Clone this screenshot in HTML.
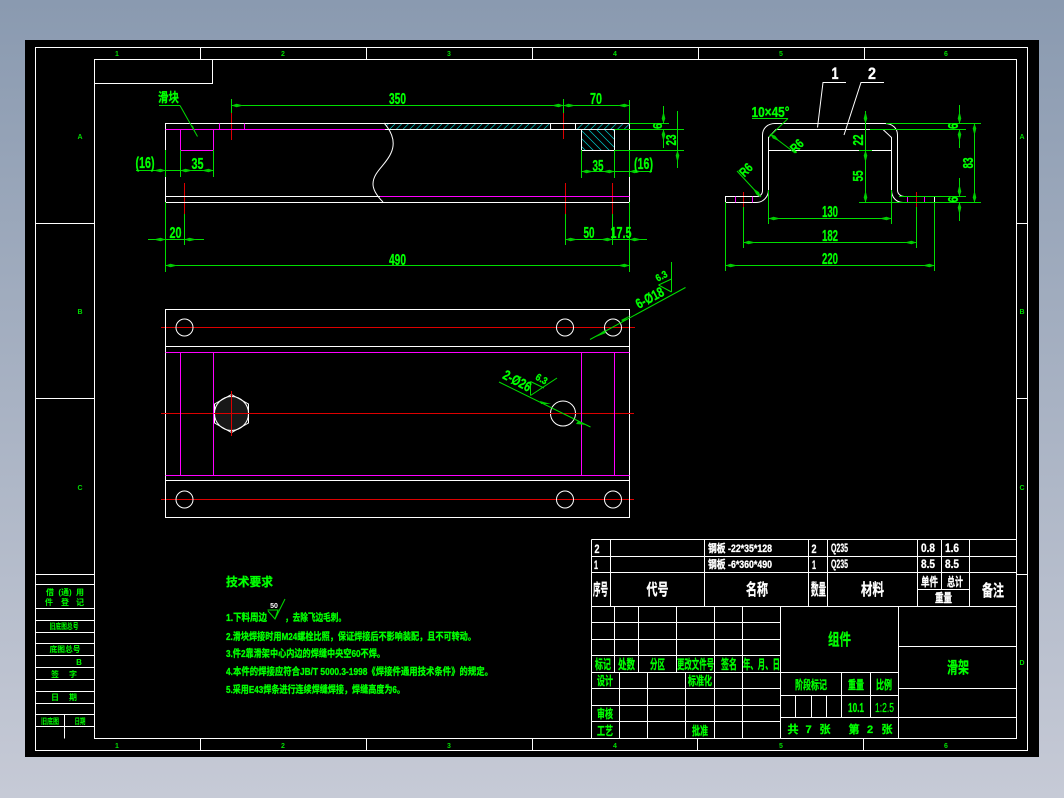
<!DOCTYPE html>
<html><head><meta charset="utf-8"><title>滑架</title>
<style>
html,body{margin:0;padding:0;width:1064px;height:798px;overflow:hidden;background:linear-gradient(#8a9ab0,#c6cad6)}
svg{position:absolute;left:0;top:0;display:block}
text{font-family:"Liberation Sans","Noto Sans CJK SC",sans-serif;font-weight:700;text-anchor:middle}
.g text{fill:#0f0;stroke:#0f0;stroke-width:.3}
.w text{fill:#fff;stroke:#fff;stroke-width:.3}
.z text{font-size:16px}
.t text{text-anchor:start}
.m text{font-size:7px;fill:#0d0;font-weight:700}
.s text{stroke:none}
.d line,.d path,.d polyline{stroke:#0d0;stroke-width:1;fill:none}
.r line{stroke:#d00;stroke-width:1}
.p path,.p line{stroke:#f0f;stroke-width:1;fill:none}
.l path,.l line,.l rect,.l circle,.l polygon,.l polyline{stroke:#fff;stroke-width:1;fill:none}
</style></head><body>
<svg width="1064" height="798" viewBox="0 0 1064 798" xmlns="http://www.w3.org/2000/svg">
<defs>
<marker id="a" markerUnits="userSpaceOnUse" markerWidth="14" markerHeight="8" refX="13" refY="4" orient="auto-start-reverse" overflow="visible"><polygon points="13,4 8,2.2 1,4 8,5.8" fill="#0c0"/></marker>
<pattern id="h1" patternUnits="userSpaceOnUse" width="6.7" height="6.7" patternTransform="skewX(-45)"><line x1="3" y1="0" x2="3" y2="6.7" stroke="#0cc" stroke-width="1"/></pattern>
<pattern id="h2" patternUnits="userSpaceOnUse" width="8" height="8" patternTransform="skewX(45)"><line x1="3" y1="0" x2="3" y2="8" stroke="#0cc" stroke-width="1"/></pattern>
</defs>
<rect x="25" y="40" width="1014" height="717" fill="#000"/>

<!-- hatch -->
<rect x="386" y="124" width="164" height="5" fill="url(#h1)"/>
<rect x="576" y="124" width="53" height="5" fill="url(#h1)"/>
<rect x="582" y="130" width="32" height="20" fill="url(#h2)"/>

<!-- red centre lines -->
<g class="r">
<line x1="231.5" y1="113" x2="231.5" y2="140"/><line x1="563.5" y1="113" x2="563.5" y2="139"/>
<line x1="184.5" y1="183" x2="184.5" y2="214"/><line x1="565.5" y1="183" x2="565.5" y2="214"/><line x1="612.5" y1="183" x2="612.5" y2="214"/>
<line x1="743.5" y1="192" x2="743.5" y2="207"/><line x1="916.5" y1="192" x2="916.5" y2="207"/>
<line x1="161" y1="327.5" x2="635" y2="327.5"/><line x1="161" y1="499.5" x2="634" y2="499.5"/>
</g>

<!-- white frame & title block -->
<g class="l">
<rect x="35.5" y="47.5" width="992" height="703"/>
<rect x="94.5" y="59.5" width="922" height="679"/>
<rect x="94.5" y="59.5" width="118" height="24"/>
<path d="M200.5 47.5V59.5M366.5 47.5V59.5M532.5 47.5V59.5M698.5 47.5V59.5M864.5 47.5V59.5M200.5 738.5V750.5M366.5 738.5V750.5M532.5 738.5V750.5M697.5 738.5V750.5M863.5 738.5V750.5"/>
<path d="M35.5 223.5H94.5M35.5 398.5H94.5M1016.5 223.5H1027.5M1016.5 398.5H1027.5M1016.5 574.5H1027.5"/>
<path d="M35.5 574.5H94.5M35.5 584.5H94.5M35.5 608.5H94.5M35.5 620.5H94.5M35.5 632.5H94.5M35.5 643.5H94.5M35.5 655.5H94.5M35.5 667.5H94.5M35.5 679.5H94.5M35.5 691.5H94.5M35.5 703.5H94.5M35.5 714.5H94.5M35.5 726.5H94.5M64.5 714.5V738.5"/>
<path d="M591.5 539.5H1016.5V738.5M591.5 539.5V738.5M591.5 556.5H1016.5M591.5 572.5H1016.5M591.5 606.5H1016.5"/>
<path d="M610.5 539.5V606.5M704.5 539.5V606.5M808.5 539.5V606.5M827.5 539.5V606.5M917.5 539.5V606.5M941.5 539.5V589.5M969.5 539.5V606.5M917.5 589.5H969.5"/>
<path d="M591.5 622.5H780.5M591.5 639.5H780.5M591.5 655.5H780.5M591.5 672.5H780.5M591.5 688.5H780.5M591.5 705.5H780.5M591.5 721.5H780.5"/>
<path d="M614.5 606.5V672.5M638.5 606.5V672.5M676.5 606.5V672.5M714.5 606.5V738.5M742.5 606.5V738.5M780.5 606.5V738.5"/>
<path d="M619.5 672.5V738.5M647.5 672.5V738.5M685.5 672.5V738.5"/>
<path d="M898.5 606.5V738.5M780.5 672.5H898.5M780.5 695.5H898.5M780.5 717.5H1016.5M898.5 646.5H1016.5M898.5 688.5H1016.5"/>
<path d="M841.5 672.5V717.5M870.5 672.5V717.5M795.5 695.5V717.5M811.5 695.5V717.5M826.5 695.5V717.5"/>

<!-- front view -->
<path d="M165.5 150V123.5H629.5V150M165.5 177V202.5H383M165.5 196.5H380M383 202.5H629.5V177M385 129.5H629.5"/>
<path d="M550.5 123.5V129.5M575.5 123.5V129.5M581.5 129.5V150.5H614.5V129.5"/>
<path d="M384 123C392 132 396 142 391 153C386 165 373 172 373 184C373 191 378 197 383 202"/>

<!-- side view -->
<path d="M725.5 196.5H757C760 196.5 762.5 194 762.5 191V135C762.5 128 768 123.5 775 123.5H885C892 123.5 897.5 128 897.5 135V190C897.5 194 901 196.5 904 196.5H934.5V202.5H903C896 202.5 891.5 197 891.5 190V137.5L883 129.5H776L768.5 137.5V190C768.5 197 763 202.5 756 202.5H725.5Z"/>
<path d="M768.5 150.5H859M872 150.5H891.5"/>

<!-- plan view -->
<rect x="165.5" y="309.5" width="464" height="208"/>
<path d="M165.5 346.5H629.5M165.5 480.5H629.5"/>
<circle cx="184.5" cy="327.5" r="8.5"/><circle cx="184.5" cy="499.5" r="8.5"/>
<circle cx="565" cy="327.5" r="8.5"/><circle cx="613" cy="327.5" r="8.5"/>
<circle cx="565" cy="499.5" r="8.5"/><circle cx="613" cy="499.5" r="8.5"/>
<circle cx="563" cy="413.5" r="12.5"/>
<polygon points="231.5,394.5 248.5,404 248.5,423 231.5,432.5 214.5,423 214.5,404" style="fill:#181818"/>
<circle cx="231.5" cy="413.5" r="17"/>

<!-- leaders 1 2 -->
<path d="M846 82.5H823L817.5 127.5M884 82.5H861L844 135"/>
</g>
<g class="r"><line x1="161" y1="413.5" x2="634" y2="413.5"/><line x1="231.5" y1="391" x2="231.5" y2="436"/></g>

<!-- magenta -->
<g class="p">
<path d="M165.5 129.5H385M380 196.5H629.5M180.5 129.5V150.5H213.5V129.5M219.5 123.5V129.5M244.5 123.5V129.5"/>
<path d="M735.5 196.5V202.5M752.5 196.5V202.5M907.5 196.5V202.5M924.5 196.5V202.5"/>
<path d="M165.5 352.5H629.5M165.5 475.5H629.5M180.5 352.5V475.5M213.5 352.5V475.5M581.5 352.5V475.5M614.5 352.5V475.5"/>
</g>

<!-- green dims -->
<g class="d">
<line x1="231.5" y1="99" x2="231.5" y2="113"/><line x1="563.5" y1="99" x2="563.5" y2="113"/><line x1="629.5" y1="100" x2="629.5" y2="123"/>
<line x1="231.5" y1="105.5" x2="563.5" y2="105.5" marker-start="url(#a)" marker-end="url(#a)"/>
<line x1="563.5" y1="105.5" x2="629.5" y2="105.5" marker-start="url(#a)" marker-end="url(#a)"/>
<line x1="165.5" y1="150" x2="165.5" y2="177"/><line x1="180.5" y1="150" x2="180.5" y2="177"/><line x1="213.5" y1="150" x2="213.5" y2="177"/>
<line x1="136" y1="170.5" x2="165.5" y2="170.5" marker-end="url(#a)"/>
<line x1="165.5" y1="170.5" x2="180.5" y2="170.5"/>
<line x1="213.5" y1="170.5" x2="180.5" y2="170.5" marker-start="url(#a)" marker-end="url(#a)"/>
<line x1="184.5" y1="214" x2="184.5" y2="245"/><line x1="165.5" y1="202" x2="165.5" y2="272"/>
<line x1="148" y1="239.5" x2="165.5" y2="239.5" marker-end="url(#a)"/>
<line x1="204" y1="239.5" x2="184.5" y2="239.5" marker-end="url(#a)"/>
<line x1="165.5" y1="239.5" x2="184.5" y2="239.5"/>
<line x1="165.5" y1="265.5" x2="629.5" y2="265.5" marker-start="url(#a)" marker-end="url(#a)"/>
<line x1="629.5" y1="202" x2="629.5" y2="272"/>
<line x1="581.5" y1="150" x2="581.5" y2="178"/><line x1="614.5" y1="150" x2="614.5" y2="178"/><line x1="629.5" y1="150" x2="629.5" y2="177"/>
<line x1="581.5" y1="171.5" x2="614.5" y2="171.5" marker-start="url(#a)" marker-end="url(#a)"/>
<line x1="652" y1="171.5" x2="629.5" y2="171.5" marker-end="url(#a)"/><line x1="614.5" y1="171.5" x2="629.5" y2="171.5"/>
<line x1="565.5" y1="214" x2="565.5" y2="245"/><line x1="612.5" y1="214" x2="612.5" y2="245"/>
<line x1="565.5" y1="239.5" x2="612.5" y2="239.5" marker-start="url(#a)" marker-end="url(#a)"/>
<line x1="647" y1="239.5" x2="629.5" y2="239.5" marker-end="url(#a)"/><line x1="612.5" y1="239.5" x2="629.5" y2="239.5"/>
<line x1="629.5" y1="123.5" x2="669" y2="123.5"/><line x1="614.5" y1="129.5" x2="684" y2="129.5"/><line x1="614.5" y1="150.5" x2="684" y2="150.5"/>
<line x1="663.5" y1="106" x2="663.5" y2="123.5" marker-end="url(#a)"/><line x1="663.5" y1="148" x2="663.5" y2="129.5" marker-end="url(#a)"/>
<line x1="677.5" y1="111" x2="677.5" y2="150.5"/><line x1="677.5" y1="168" x2="677.5" y2="150.5" marker-end="url(#a)"/>
<!-- slider leader -->
<line x1="159" y1="105.5" x2="180" y2="105.5"/>
<line x1="180" y1="105.5" x2="197.5" y2="136.5"/>
<polygon points="190,124 197,136 193,126" fill="#0c0"/>

<!-- side view dims -->
<line x1="743.5" y1="207" x2="743.5" y2="248"/><line x1="916.5" y1="207" x2="916.5" y2="248"/>
<line x1="768.5" y1="190" x2="768.5" y2="224"/><line x1="891.5" y1="190" x2="891.5" y2="224"/>
<line x1="768.5" y1="218.5" x2="891.5" y2="218.5" marker-start="url(#a)" marker-end="url(#a)"/>
<line x1="743.5" y1="242.5" x2="916.5" y2="242.5" marker-start="url(#a)" marker-end="url(#a)"/>
<line x1="725.5" y1="265.5" x2="934.5" y2="265.5" marker-start="url(#a)" marker-end="url(#a)"/>
<line x1="725.5" y1="202" x2="725.5" y2="271"/><line x1="934.5" y1="202" x2="934.5" y2="271"/>
<line x1="865.5" y1="111" x2="865.5" y2="123.5" marker-end="url(#a)"/>
<line x1="865.5" y1="123.5" x2="865.5" y2="150.5"/>
<line x1="865.5" y1="150.5" x2="865.5" y2="202.5" marker-start="url(#a)" marker-end="url(#a)"/>
<line x1="886" y1="123.5" x2="981" y2="123.5"/><line x1="870" y1="129.5" x2="966" y2="129.5"/><line x1="859" y1="150.5" x2="872" y2="150.5"/>
<line x1="899" y1="196.5" x2="966" y2="196.5"/><line x1="859" y1="202.5" x2="981" y2="202.5"/>
<line x1="959.5" y1="105" x2="959.5" y2="123.5" marker-end="url(#a)"/><line x1="959.5" y1="148" x2="959.5" y2="129.5" marker-end="url(#a)"/>
<line x1="959.5" y1="178" x2="959.5" y2="196.5" marker-end="url(#a)"/><line x1="959.5" y1="221" x2="959.5" y2="202.5" marker-end="url(#a)"/>
<line x1="974.5" y1="123.5" x2="974.5" y2="202.5" marker-start="url(#a)" marker-end="url(#a)"/>
<line x1="752" y1="118.5" x2="788" y2="118.5"/><line x1="788" y1="118.5" x2="769" y2="137"/>
<line x1="795" y1="153" x2="770" y2="134" marker-end="url(#a)"/>
<line x1="737" y1="171" x2="761" y2="197" marker-end="url(#a)"/>

<!-- plan leaders -->
<line x1="685.5" y1="287.5" x2="590" y2="339.5"/>
<polygon points="594,337.6 604,330.5 606,333" fill="#0c0"/>
<polygon points="631,315 621,320 623,321.5" fill="#0c0"/>
<line x1="499" y1="382" x2="590.5" y2="427"/>
<polygon points="540,401 551,404 541,404" fill="#0c0"/><polygon points="578,421 587,425 576,424" fill="#0c0"/>
<line x1="671.5" y1="262" x2="671.5" y2="292"/><line x1="658.5" y1="285" x2="671.5" y2="279"/><line x1="658.5" y1="285" x2="671.5" y2="292"/>
<line x1="530.5" y1="381.5" x2="530.5" y2="395.5"/><line x1="530.5" y1="395.5" x2="557" y2="378"/><line x1="530.5" y1="381.5" x2="544" y2="388"/>
</g>

<!-- white labels on drawing -->
<g class="w">
<text x="835" y="79" font-size="17" textLength="7" lengthAdjust="spacingAndGlyphs">1</text>
<text x="872" y="79" font-size="17" textLength="8" lengthAdjust="spacingAndGlyphs">2</text>
</g>

<!-- green dimension text -->
<g class="g z">
<text x="168.5" y="102" style="font-size:13px" textLength="21" lengthAdjust="spacingAndGlyphs">滑块</text>
<text x="145" y="168" textLength="19" lengthAdjust="spacingAndGlyphs">(16)</text>
<text x="197.5" y="169" textLength="12" lengthAdjust="spacingAndGlyphs">35</text>
<text x="175.5" y="238" textLength="12" lengthAdjust="spacingAndGlyphs">20</text>
<text x="397.5" y="104" textLength="17" lengthAdjust="spacingAndGlyphs">350</text>
<text x="596" y="104" textLength="12" lengthAdjust="spacingAndGlyphs">70</text>
<text x="397.5" y="265" textLength="17" lengthAdjust="spacingAndGlyphs">490</text>
<text x="598" y="171" textLength="11" lengthAdjust="spacingAndGlyphs">35</text>
<text x="643.5" y="169" textLength="19" lengthAdjust="spacingAndGlyphs">(16)</text>
<text x="589" y="238" textLength="11" lengthAdjust="spacingAndGlyphs">50</text>
<text x="621" y="238" textLength="21" lengthAdjust="spacingAndGlyphs">17.5</text>
<text transform="translate(662,126) rotate(-90)" textLength="6" lengthAdjust="spacingAndGlyphs" style="font-size:13px">6</text>
<text transform="translate(676,140) rotate(-90)" textLength="11" lengthAdjust="spacingAndGlyphs" style="font-size:15px">23</text>
<text x="830" y="217" textLength="16" lengthAdjust="spacingAndGlyphs">130</text>
<text x="830" y="241" textLength="16" lengthAdjust="spacingAndGlyphs">182</text>
<text x="830" y="264" textLength="16" lengthAdjust="spacingAndGlyphs">220</text>
<text transform="translate(863,140) rotate(-90)" textLength="11" lengthAdjust="spacingAndGlyphs" style="font-size:15px">22</text>
<text transform="translate(863,176) rotate(-90)" textLength="11" lengthAdjust="spacingAndGlyphs" style="font-size:15px">55</text>
<text transform="translate(973,163) rotate(-90)" textLength="11" lengthAdjust="spacingAndGlyphs" style="font-size:15px">83</text>
<text transform="translate(958,126) rotate(-90)" textLength="6" lengthAdjust="spacingAndGlyphs" style="font-size:15px">6</text>
<text transform="translate(958,199.5) rotate(-90)" textLength="6" lengthAdjust="spacingAndGlyphs" style="font-size:15px">6</text>
<text x="770.5" y="117" style="font-size:15px" textLength="38" lengthAdjust="spacingAndGlyphs">10×45°</text>
<text transform="translate(800,149) rotate(-45)" textLength="13" lengthAdjust="spacingAndGlyphs" style="font-size:13px">R6</text>
<text transform="translate(749,173) rotate(-45)" textLength="13" lengthAdjust="spacingAndGlyphs" style="font-size:13px">R6</text>
<text transform="translate(652,302) rotate(-28)" textLength="30" lengthAdjust="spacingAndGlyphs" style="font-size:14px">6-Ø18</text>
<text transform="translate(663,279) rotate(-28)" textLength="12" lengthAdjust="spacingAndGlyphs" style="font-size:10px">6.3</text>
<text transform="translate(515,385) rotate(28)" textLength="30" lengthAdjust="spacingAndGlyphs" style="font-size:14px">2-Ø26</text>
<text transform="translate(540,382) rotate(28)" textLength="12" lengthAdjust="spacingAndGlyphs" style="font-size:10px">6.3</text>
</g>

<!-- technical requirements -->
<g class="g t">
<text x="226" y="586" style="font-size:12px" textLength="47" lengthAdjust="spacingAndGlyphs">技术要求</text>
<text x="226" y="621" style="font-size:10px" textLength="41" lengthAdjust="spacingAndGlyphs">1.下料周边</text>
<text x="285" y="621" style="font-size:10px" textLength="61" lengthAdjust="spacingAndGlyphs">，去除飞边毛刺。</text>
<text x="226" y="640" style="font-size:10px" textLength="250" lengthAdjust="spacingAndGlyphs">2.滑块焊接时用M24螺栓比照，保证焊接后不影响装配，且不可转动。</text>
<text x="226" y="657" style="font-size:10px" textLength="159" lengthAdjust="spacingAndGlyphs">3.件2靠滑架中心内边的焊缝中央空60不焊。</text>
<text x="226" y="675" style="font-size:10px" textLength="267" lengthAdjust="spacingAndGlyphs">4.本件的焊接应符合JB/T 5000.3-1998《焊接件通用技术条件》的规定。</text>
<text x="226" y="693" style="font-size:10px" textLength="179" lengthAdjust="spacingAndGlyphs">5.采用E43焊条进行连续焊缝焊接，焊缝高度为6。</text>
</g>
<path d="M267.5 610H278L275 619L268 611M275 619L285 599" stroke="#0d0" fill="none"/>
<g class="w s"><text x="274" y="608" style="font-size:7px">50</text></g>

<!-- title block white -->
<g class="w">
<text x="597" y="553" style="font-size:12px" textLength="5" lengthAdjust="spacingAndGlyphs">2</text><text x="596" y="569" style="font-size:12px" textLength="4" lengthAdjust="spacingAndGlyphs">1</text>
<text x="740" y="552" style="font-size:11px" textLength="64" lengthAdjust="spacingAndGlyphs">钢板 -22*35*128</text>
<text x="740" y="568" style="font-size:11px" textLength="64" lengthAdjust="spacingAndGlyphs">钢板 -6*360*490</text>
<text x="814" y="553" style="font-size:12px" textLength="5" lengthAdjust="spacingAndGlyphs">2</text><text x="814" y="569" style="font-size:12px" textLength="4" lengthAdjust="spacingAndGlyphs">1</text>
<text x="839.5" y="552" style="font-size:12px" textLength="17" lengthAdjust="spacingAndGlyphs">Q235</text>
<text x="839.5" y="568" style="font-size:12px" textLength="17" lengthAdjust="spacingAndGlyphs">Q235</text>
<text x="928" y="552" style="font-size:12px" textLength="14" lengthAdjust="spacingAndGlyphs">0.8</text>
<text x="952" y="552" style="font-size:12px" textLength="14" lengthAdjust="spacingAndGlyphs">1.6</text>
<text x="928" y="568" style="font-size:12px" textLength="14" lengthAdjust="spacingAndGlyphs">8.5</text>
<text x="952" y="568" style="font-size:12px" textLength="14" lengthAdjust="spacingAndGlyphs">8.5</text>
<text x="600.5" y="595" style="font-size:16px" textLength="15" lengthAdjust="spacingAndGlyphs">序号</text>
<text x="657.5" y="595" style="font-size:16px" textLength="22" lengthAdjust="spacingAndGlyphs">代号</text>
<text x="757" y="595" style="font-size:16px" textLength="22" lengthAdjust="spacingAndGlyphs">名称</text>
<text x="818.5" y="595" style="font-size:16px" textLength="15" lengthAdjust="spacingAndGlyphs">数量</text>
<text x="872.5" y="595" style="font-size:16px" textLength="23" lengthAdjust="spacingAndGlyphs">材料</text>
<text x="929.5" y="586" style="font-size:12px" textLength="17" lengthAdjust="spacingAndGlyphs">单件</text>
<text x="955" y="586" style="font-size:12px" textLength="16" lengthAdjust="spacingAndGlyphs">总计</text>
<text x="943.5" y="602" style="font-size:12px" textLength="17" lengthAdjust="spacingAndGlyphs">重量</text>
<text x="993" y="596" style="font-size:16px" textLength="22" lengthAdjust="spacingAndGlyphs">备注</text>
</g>

<!-- title block green -->
<g class="g">
<text x="603" y="669" style="font-size:13px" textLength="16" lengthAdjust="spacingAndGlyphs">标记</text>
<text x="626.5" y="669" style="font-size:13px" textLength="17" lengthAdjust="spacingAndGlyphs">处数</text>
<text x="657.5" y="669" style="font-size:13px" textLength="15" lengthAdjust="spacingAndGlyphs">分区</text>
<text x="695.5" y="669" style="font-size:13px" textLength="37" lengthAdjust="spacingAndGlyphs">更改文件号</text>
<text x="729" y="669" style="font-size:13px" textLength="16" lengthAdjust="spacingAndGlyphs">签名</text>
<text x="761.5" y="669" style="font-size:13px" textLength="37" lengthAdjust="spacingAndGlyphs">年、月、日</text>
<text x="605" y="685" style="font-size:12px" textLength="16" lengthAdjust="spacingAndGlyphs">设计</text>
<text x="700" y="685" style="font-size:12px" textLength="24" lengthAdjust="spacingAndGlyphs">标准化</text>
<text x="605" y="718" style="font-size:12px" textLength="16" lengthAdjust="spacingAndGlyphs">审核</text>
<text x="605" y="735" style="font-size:12px" textLength="16" lengthAdjust="spacingAndGlyphs">工艺</text>
<text x="700" y="735" style="font-size:12px" textLength="16" lengthAdjust="spacingAndGlyphs">批准</text>
<text x="839.5" y="645" style="font-size:16px" textLength="23" lengthAdjust="spacingAndGlyphs">组件</text>
<text x="958" y="673" style="font-size:16px" textLength="22" lengthAdjust="spacingAndGlyphs">滑架</text>
<text x="811" y="689" style="font-size:12px" textLength="32" lengthAdjust="spacingAndGlyphs">阶段标记</text>
<text x="856" y="689" style="font-size:12px" textLength="16" lengthAdjust="spacingAndGlyphs">重量</text>
<text x="884" y="689" style="font-size:12px" textLength="16" lengthAdjust="spacingAndGlyphs">比例</text>
<text x="856" y="712" style="font-size:13px" textLength="16" lengthAdjust="spacingAndGlyphs">10.1</text>
<text x="884.5" y="712" style="font-size:13px;font-weight:400" textLength="19" lengthAdjust="spacingAndGlyphs">1:2.5</text>
<text x="793" y="733" style="font-size:11px">共</text><text x="808.5" y="733" style="font-size:11px">7</text><text x="825" y="733" style="font-size:11px">张</text>
<text x="854" y="733" style="font-size:11px">第</text><text x="870" y="733" style="font-size:11px">2</text><text x="887" y="733" style="font-size:11px">张</text>
</g>

<!-- left table -->
<g class="g s">
<text x="50" y="595" style="font-size:8px">借</text><text x="65" y="595" style="font-size:8px">(通)</text><text x="80" y="595" style="font-size:8px">用</text>
<text x="49" y="605" style="font-size:8px">件</text><text x="65" y="605" style="font-size:8px">登</text><text x="80" y="605" style="font-size:8px">记</text>
<text x="64" y="629" style="font-size:8px" textLength="29" lengthAdjust="spacingAndGlyphs">旧底图总号</text>
<text x="65" y="652" style="font-size:8px" textLength="31" lengthAdjust="spacingAndGlyphs">底图总号</text>
<text x="79" y="665" style="font-size:8px">B</text>
<text x="55" y="677" style="font-size:8px">签</text><text x="73" y="677" style="font-size:8px">字</text>
<text x="55" y="700" style="font-size:8px">日</text><text x="73" y="700" style="font-size:8px">期</text>
<text x="50" y="724" style="font-size:8px" textLength="18" lengthAdjust="spacingAndGlyphs">旧底图</text>
<text x="80" y="724" style="font-size:8px" textLength="11" lengthAdjust="spacingAndGlyphs">日期</text>
</g>

<!-- border references -->
<g class="m">
<text x="117" y="56">1</text><text x="283" y="56">2</text><text x="449" y="56">3</text><text x="615" y="56">4</text><text x="781" y="56">5</text><text x="946" y="56">6</text>
<text x="117" y="748">1</text><text x="283" y="748">2</text><text x="449" y="748">3</text><text x="615" y="748">4</text><text x="781" y="748">5</text><text x="946" y="748">6</text>
<text x="80" y="139">A</text><text x="80" y="314">B</text><text x="80" y="490">C</text>
<text x="1022" y="139">A</text><text x="1022" y="314">B</text><text x="1022" y="490">C</text><text x="1022" y="665">D</text>
</g>
</svg>
</body></html>
